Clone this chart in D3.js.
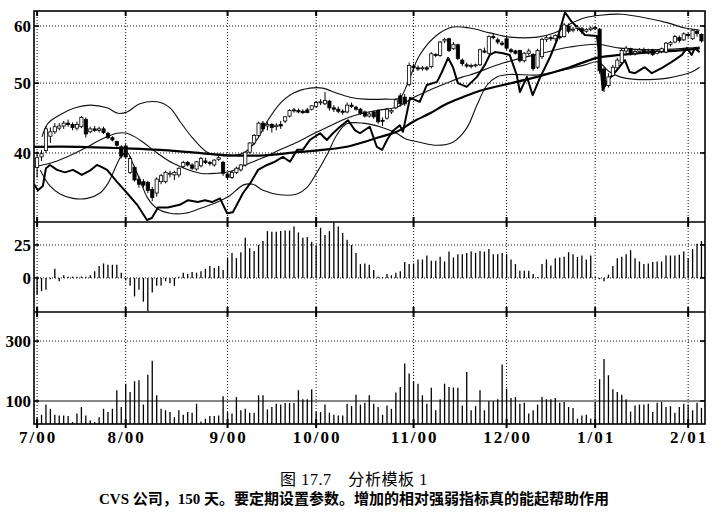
<!DOCTYPE html>
<html>
<head>
<meta charset="utf-8">
<script src="https://cdn.jsdelivr.net/npm/d3@7"></script>
<style>
  body { margin: 0; background: #fff; }
  svg { display: block; }
</style>
</head>
<body>
<svg id="chart" width="721" height="517"></svg>
<script>
// DATA -----------------------------------------------------------
// trading-day index of the first session of each month
const monthDays = [0, 20, 43, 63, 85, 106, 126, 147]
const monthLabels = ["7/00", "8/00", "9/00", "10/00", "11/00", "12/00", "1/01", "2/01"]
const priceTicks = [40, 50, 60]
const momentumTicks = [0, 25]
const volumeTicks = [100, 300]

// daily bars: [open, high, low, close]
const candles = [
  [38.2,40.2,37.0,39.4],[39.5,40.4,39.0,39.9],[40.3,43.6,40.0,43.2],[42.2,43.4,41.3,42.8],[42.8,44.0,42.5,43.5],
  [43.3,44.0,43.0,43.6],[43.6,44.3,43.2,44.0],[44.0,44.5,43.5,43.8],[43.8,44.1,43.0,43.4],[43.3,44.2,43.0,43.8],
  [43.5,45.0,43.3,44.8],[44.5,44.8,42.0,42.5],[42.8,43.5,42.6,43.2],[43.2,43.6,42.8,43.0],[43.0,43.5,42.7,43.2],
  [43.2,43.5,42.5,42.7],[42.6,42.8,41.8,42.0],[42.0,42.2,41.5,41.7],[41.5,41.6,40.8,41.0],[40.8,41.0,39.3,39.6],
  [40.9,41.2,39.3,39.5],[37.6,39.6,37.4,39.3],[38.2,38.4,36.5,36.7],[36.8,37.2,35.8,36.2],[36.5,36.8,35.8,36.1],
  [36.4,36.6,35.2,35.5],[35.6,35.9,34.3,34.7],[35.2,37.0,34.8,36.8],[36.5,37.4,36.2,37.2],[36.5,37.8,36.3,37.6],
  [37.4,37.8,37.0,37.5],[37.3,37.8,36.7,37.6],[37.3,38.2,37.0,38.1],[38.3,39.0,38.1,38.8],[38.8,39.0,38.3,38.5],
  [38.5,38.7,37.9,38.1],[38.0,39.0,37.8,38.9],[38.4,39.5,38.2,39.3],[39.0,39.4,38.6,38.8],[38.8,39.0,38.4,38.7],
  [38.5,39.2,38.3,39.1],[39.2,39.8,39.0,39.4],[38.8,39.0,37.2,37.5],[37.4,37.6,36.8,37.0],[37.0,37.8,36.8,37.6],
  [37.6,38.3,37.4,38.1],[37.9,38.6,37.7,38.5],[38.5,40.2,38.3,40.1],[40.1,41.4,39.9,41.3],[41.3,42.5,41.0,42.3],
  [42.3,44.2,42.0,44.0],[44.0,44.3,42.8,43.2],[43.6,44.2,43.0,43.8],[43.8,44.0,42.7,43.4],[43.5,44.0,43.0,43.7],
  [43.8,44.3,43.2,43.6],[44.3,45.0,44.0,44.9],[45.0,46.0,44.8,45.8],[45.9,46.2,45.5,45.8],[45.8,46.1,45.4,45.6],
  [45.7,46.0,45.3,45.5],[45.9,46.2,45.4,45.5],[46.0,46.6,45.8,46.5],[46.4,47.2,46.2,47.0],[47.0,47.5,46.6,47.1],
  [46.8,48.6,46.6,47.3],[47.2,47.4,45.8,46.2],[46.2,46.6,45.6,46.0],[46.0,46.4,45.4,45.7],[45.7,46.0,45.2,45.6],
  [45.6,47.0,45.4,46.6],[46.6,47.0,46.2,46.4],[46.3,46.5,45.8,46.0],[46.0,46.2,45.2,45.4],[45.6,45.8,44.8,45.0],
  [45.0,45.6,44.8,45.3],[45.6,45.8,44.6,44.9],[45.8,46.0,43.9,44.2],[44.4,44.8,43.6,44.3],[44.7,46.2,44.5,46.0],
  [45.6,46.0,45.3,45.8],[46.2,47.6,46.0,47.4],[48.0,48.4,46.4,46.8],[47.8,48.3,46.5,46.8],[49.8,53.4,49.5,52.9],
  [52.8,53.2,52.0,52.5],[52.5,52.9,52.0,52.3],[52.4,52.8,52.0,52.5],[52.5,52.8,52.0,52.3],[52.7,55.2,52.4,54.9],
  [54.8,55.0,54.3,54.6],[54.6,57.2,54.4,57.0],[57.2,57.8,56.8,57.5],[57.6,57.8,55.2,55.5],[55.8,57.0,55.6,56.6],
  [56.5,56.7,53.8,54.1],[53.8,54.1,52.8,53.2],[53.0,53.4,52.5,52.8],[52.8,53.2,52.4,52.9],[52.9,53.2,52.6,53.0],
  [53.0,55.8,52.8,55.6],[55.4,56.0,55.0,55.2],[55.0,58.2,54.8,58.0],[58.0,58.6,57.5,57.8],[57.4,57.8,56.6,57.0],
  [56.8,57.2,56.3,56.6],[57.6,58.0,55.6,55.9],[55.6,55.9,55.0,55.3],[55.4,55.6,54.8,55.0],[55.5,55.6,53.4,53.7],
  [53.7,55.2,53.4,55.0],[55.0,55.8,54.6,55.4],[54.8,55.0,52.0,52.4],[52.6,55.8,52.3,55.5],[54.4,57.8,54.0,57.5],
  [57.5,58.2,57.0,57.8],[57.8,58.2,57.2,57.6],[57.6,58.4,57.2,58.2],[58.0,58.4,57.5,57.8],[58.0,60.6,57.8,60.2],
  [60.0,60.5,58.6,59.0],[59.2,59.8,58.8,59.4],[59.5,60.2,59.0,59.8],[59.5,59.8,58.5,59.0],[59.0,59.6,58.7,59.3],
  [59.3,59.9,59.0,59.6],[59.5,60.0,59.2,59.7],[59.4,59.6,51.5,52.0],[52.3,52.6,48.6,49.5],[49.6,51.6,49.3,51.0],
  [51.2,53.0,51.0,52.6],[52.5,54.2,52.2,53.8],[53.4,55.8,53.2,55.5],[55.4,56.3,55.0,55.9],[55.8,56.0,54.6,55.0],
  [55.0,55.6,54.6,55.3],[55.3,55.9,54.9,55.6],[55.5,56.0,55.0,55.2],[55.3,55.8,54.8,55.4],[55.6,55.8,54.5,54.8],
  [55.0,55.6,54.8,55.3],[55.3,56.0,55.0,55.8],[55.2,57.0,55.0,56.8],[56.6,57.2,56.2,56.9],[57.0,58.3,56.8,58.0],
  [57.8,58.2,56.9,57.3],[57.4,58.8,57.2,58.5],[58.4,58.7,57.8,58.2],[57.6,59.4,57.4,59.2],[59.0,59.3,58.0,58.6],
  [58.4,58.6,56.9,57.2]
]

// overlays: [day, price]
const upperBand = [[1.1,42.1],[2.5,44.0],[5.2,45.2],[8.6,46.2],[11.9,46.6],[15.8,46.2],[18.3,45.4],[20.3,45.6],
  [23.2,46.8],[27.1,47.1],[30.0,46.2],[32.3,44.2],[35.2,41.9],[38.4,40.1],[41.3,39.7],[44.7,39.7],[46.9,40.1],
  [49.6,41.7],[51.9,44.2],[54.8,46.8],[57.8,48.4],[61.6,49.2],[64.5,49.2],[67.7,48.4],[70.6,47.8],[74.0,47.5],
  [78.5,47.5],[81.9,47.7],[83.5,49.7],[86.4,54.7],[90.3,58.3],[93.9,59.8],[97.7,59.6],[102.2,58.7],[106.7,57.9],
  [112.9,57.9],[116.9,58.7],[120.3,60.4],[123.7,61.6],[127.1,62.1],[132.0,62.3],[137.2,61.6],[142.4,60.6],
  [146.3,59.6],[149.6,59.2]]

const middleAvg = [[-0.5,38.3],[2.9,38.7],[6.7,39.5],[10.8,40.6],[14.2,41.7],[18.0,42.6],[20.3,42.6],[23.2,41.7],
  [27.1,40.0],[30.7,38.7],[36.8,37.5],[40.6,37.5],[43.5,37.7],[47.4,38.6],[51.0,39.4],[54.8,40.4],[58.7,41.4],
  [62.3,42.5],[66.1,43.6],[69.9,44.7],[73.6,45.4],[77.4,45.9],[81.2,46.3],[84.9,47.7],[88.7,48.9],[92.5,50.0],
  [96.1,51.0],[97.7,51.3],[105.2,53.3],[112.9,54.8],[120.3,56.1],[126.4,56.6],[131.6,55.9],[139.0,55.6],
  [146.7,55.9],[149.6,56.1]]

const lowerBand = [[0.7,37.9],[2.9,36.0],[5.2,35.1],[8.1,34.6],[11.3,34.6],[14.2,35.2],[16.0,36.3],[17.6,38.1],
  [19.0,39.6],[20.3,40.1],[21.6,38.7],[23.2,36.7],[25.0,34.6],[27.1,33.5],[30.0,33.0],[33.4,33.0],[36.8,33.5],
  [40.2,34.1],[43.5,34.9],[46.5,36.1],[48.7,36.2],[51.0,35.5],[54.8,35.0],[58.7,35.1],[60.9,35.8],[63.2,37.6],
  [65.4,39.7],[67.7,42.4],[69.9,43.9],[73.6,44.0],[77.4,43.5],[81.2,42.6],[83.0,41.9],[86.4,41.4],[90.3,41.0],
  [93.9,41.4],[97.0,43.3],[99.3,46.6],[101.6,49.7],[103.8,51.0],[106.7,51.4],[112.9,51.3],[116.9,51.8],
  [123.7,53.0],[126.6,53.5],[129.3,51.8],[131.6,51.0],[135.0,50.6],[139.5,50.6],[142.4,50.8],[145.6,51.3],
  [147.8,51.8],[149.6,52.6]]

const longAvg = [[-0.7,40.8],[9.7,40.8],[19.8,40.6],[27.7,40.4],[34.5,40.1],[43.5,39.7],[51.4,39.7],[58.7,40.1],
  [64.5,40.4],[69.9,40.8],[73.6,41.4],[77.4,42.1],[81.2,42.8],[84.9,44.2],[88.7,45.4],[92.5,46.8],[96.1,47.8],
  [100.0,48.8],[105.2,49.7],[112.9,51.0],[120.3,52.6],[126.4,54.2],[131.6,54.7],[139.0,55.2],[146.7,55.6],
  [149.6,55.9]]

const relStrength = [[-0.7,36.2],[0.2,35.5],[1.3,36.0],[2.0,38.1],[2.9,38.5],[4.5,37.9],[6.3,37.6],[8.1,37.9],
  [10.1,37.3],[11.9,37.8],[13.5,38.5],[14.4,38.3],[15.8,37.9],[18.0,36.5],[20.3,35.2],[22.6,33.9],[24.8,32.3],
  [25.9,32.5],[27.3,33.6],[29.5,33.6],[32.2,33.9],[34.1,34.4],[36.3,34.2],[37.9,34.4],[39.5,34.2],[41.3,34.6],
  [42.9,33.0],[44.2,33.1],[46.5,35.2],[48.1,36.3],[49.9,37.9],[51.9,38.5],[53.7,38.9],[55.5,39.5],[57.1,38.9],
  [58.7,40.4],[60.0,40.4],[61.6,41.7],[63.9,42.6],[65.4,41.7],[66.8,42.6],[68.4,43.5],[70.2,44.4],[71.8,43.0],
  [72.9,42.6],[75.1,43.5],[76.7,40.8],[77.9,40.4],[79.0,41.7],[80.3,42.9],[81.9,43.7],[82.6,42.8],[84.2,47.7],
  [86.4,47.1],[88.0,49.7],[90.3,50.2],[91.4,51.8],[92.8,54.2],[93.9,52.6],[95.0,50.0],[97.0,49.4],[99.3,51.0],
  [101.1,53.0],[102.2,54.7],[103.4,55.2],[105.2,55.0],[106.7,54.7],[108.3,51.3],[109.0,48.6],[110.6,51.0],
  [111.9,48.1],[113.5,50.8],[115.8,54.3],[117.4,57.4],[119.2,62.7],[120.7,60.8],[123.7,58.3],[126.4,58.1],
  [127.1,53.8],[127.7,48.9],[128.9,50.5],[130.9,52.1],[132.7,53.8],[133.8,51.8],[135.0,51.6],[137.2,52.6],
  [138.8,51.6],[141.1,52.5],[143.3,53.5],[145.6,54.7],[146.7,55.9],[147.8,54.7],[148.5,55.9],[149.6,55.2]]

// momentum histogram, one value per day
const momentum = [
  -12.5,-10,-9,-1,7,-2.5,2,1,1,1,
  1,1,2,5,9,11,10,10,10,4,
  -2,-6,-14,-9,-18,-25,-11,-6,-6,-2.5,
  -4,-6,1,4,3,4.5,4,5,7,9,
  7.5,9,6,15.5,19,15,19.5,30.5,22.5,20.5,
  25,28,35.5,35,35,35.5,36,36,39,34.5,
  30.5,31,27.5,24.5,38,32.5,35.5,42,39,34,
  29,25,19,10.5,11,10,6,1,0.5,3,
  2,4,5,12,10.5,11,14,14,17,13,
  13,16,12.5,20,15.5,18,18,19,20,19,
  20.5,20,22,18,18,19,18,14,10.5,5.5,
  5.5,5.5,3,0.5,10.5,14,9.5,15,15.5,16,
  19.5,18,16,17,14,17,0.5,-1,-2.5,2.5,
  9,15,16,18,21,15,12.5,10.5,11,12,
  12.5,12.5,17,17,17,17.5,20,15,22,26,
  28
]

// daily volume
const volume = [
  46,54,88,74,54,52,52,50,30,58,
  80,52,35,30,46,74,63,74,136,80,
  158,130,166,169,88,188,234,119,74,69,
  63,46,69,54,63,61,91,32,41,50,
  50,52,116,63,58,113,69,74,61,61,
  119,119,72,80,91,88,93,93,93,136,
  106,106,139,65,63,88,61,54,52,52,
  91,83,121,88,94,119,91,80,54,85,
  74,128,147,225,192,166,158,119,91,144,
  69,106,158,147,145,144,85,197,69,83,
  136,69,99,99,106,222,141,110,113,91,
  94,58,69,88,113,106,106,110,94,97,
  80,77,41,52,54,41,97,173,240,186,
  139,130,121,106,65,85,88,88,91,63,
  94,97,80,83,61,80,91,88,69,94,
  77
]

// LAYOUT -----------------------------------------------------------
const left = 34
const right = 705
const pricePanel = [11, 222]
const momPanel = [222, 312]
const volPanel = [312, 424]
const serif = '"Liberation Serif", "Times New Roman", serif'

const svg = d3.select("#chart")

const xScale = d3.scaleLinear()
  .domain([-0.7, 150.8])
  .range([left, right])

const yPrice = d3.scaleLog()
  .domain([32.09, 62.94])
  .range([pricePanel[1], pricePanel[0]])

const yMom = d3.scaleLinear()
  .domain([-25.8, 42.4])
  .range([momPanel[1], momPanel[0]])

const yVol = d3.scaleLinear()
  .domain([23.3, 397])
  .range([volPanel[1], volPanel[0]])

svg.append("defs").append("clipPath")
  .attr("id", "price-clip")
  .append("rect")
  .attr("x", left).attr("y", pricePanel[0])
  .attr("width", right - left).attr("height", pricePanel[1] - pricePanel[0])

// GRID -----------------------------------------------------------
const grid = svg.append("g")
  .attr("stroke", "#111")
  .attr("stroke-width", 1)
  .attr("stroke-dasharray", "1,2")

const panels = [pricePanel, momPanel, volPanel]
panels.forEach(p => {
  grid.selectAll(null)
    .data(monthDays)
    .join("line")
    .attr("x1", d => xScale(d)).attr("x2", d => xScale(d))
    .attr("y1", p[0]).attr("y2", p[1])
})

const hLines = [
  ...priceTicks.map(d => yPrice(d)),
  ...momentumTicks.map(d => yMom(d)),
  yVol(volumeTicks[1])
]
grid.selectAll(null)
  .data(hLines)
  .join("line")
  .attr("x1", left).attr("x2", right)
  .attr("y1", d => d).attr("y2", d => d)

// solid reference line in volume panel
svg.append("line")
  .attr("x1", left).attr("x2", right)
  .attr("y1", yVol(volumeTicks[0])).attr("y2", yVol(volumeTicks[0]))
  .attr("stroke", "#111").attr("stroke-width", 1)

// PRICE PANEL -----------------------------------------------------------
const priceG = svg.append("g").attr("clip-path", "url(#price-clip)")

const smooth = d3.line()
  .x(d => xScale(d[0]))
  .y(d => yPrice(d[1]))
  .curve(d3.curveCatmullRom.alpha(0.5))

const jagged = d3.line()
  .x(d => xScale(d[0]))
  .y(d => yPrice(d[1]))

;[upperBand, middleAvg, lowerBand].forEach(series => {
  priceG.append("path")
    .datum(series)
    .attr("d", smooth)
    .attr("fill", "none")
    .attr("stroke", "#111")
    .attr("stroke-width", 1.1)
})

priceG.append("path")
  .datum(longAvg)
  .attr("d", smooth)
  .attr("fill", "none")
  .attr("stroke", "#000")
  .attr("stroke-width", 2.2)

priceG.append("path")
  .datum(relStrength)
  .attr("d", jagged)
  .attr("fill", "none")
  .attr("stroke", "#000")
  .attr("stroke-width", 2)
  .attr("stroke-linejoin", "round")

const bars = priceG.selectAll(".candle")
  .data(candles)
  .join("g")
  .attr("class", "candle")

bars.append("line")
  .attr("x1", (d, i) => xScale(i)).attr("x2", (d, i) => xScale(i))
  .attr("y1", d => yPrice(d[1])).attr("y2", d => yPrice(d[2]))
  .attr("stroke", "#000").attr("stroke-width", 1)

bars.append("rect")
  .attr("x", (d, i) => xScale(i) - 1.6)
  .attr("width", 3.2)
  .attr("y", d => yPrice(Math.max(d[0], d[3])))
  .attr("height", d => Math.max(1, Math.abs(yPrice(d[0]) - yPrice(d[3]))))
  .attr("fill", d => d[3] >= d[0] ? "#fff" : "#000")
  .attr("stroke", "#000")
  .attr("stroke-width", 0.8)

// MOMENTUM PANEL -----------------------------------------------------------
svg.append("g").selectAll("line")
  .data(momentum)
  .join("line")
  .attr("x1", (d, i) => xScale(i)).attr("x2", (d, i) => xScale(i))
  .attr("y1", yMom(0))
  .attr("y2", d => Math.abs(d) < 0.6 ? yMom(0) - (d < 0 ? -1 : 1) : yMom(d))
  .attr("stroke", "#000")
  .attr("stroke-width", 1.3)

// VOLUME PANEL -----------------------------------------------------------
svg.append("g").selectAll("line")
  .data(volume)
  .join("line")
  .attr("x1", (d, i) => xScale(i)).attr("x2", (d, i) => xScale(i))
  .attr("y1", volPanel[1])
  .attr("y2", d => yVol(d))
  .attr("stroke", "#000")
  .attr("stroke-width", 1.3)

// FRAMES & TICKS -----------------------------------------------------------
const frame = svg.append("g").attr("fill", "none").attr("stroke", "#000")

frame.append("rect")
  .attr("x", left).attr("y", pricePanel[0])
  .attr("width", right - left).attr("height", volPanel[1] - pricePanel[0])
  .attr("stroke-width", 1.6)

;[momPanel[0], volPanel[0]].forEach(y => {
  frame.append("line")
    .attr("x1", left).attr("x2", right)
    .attr("y1", y).attr("y2", y)
    .attr("stroke-width", 1.6)
})

const edgeYs = [pricePanel[0], momPanel[0], volPanel[0], volPanel[1]]
edgeYs.forEach(y => {
  frame.selectAll(null)
    .data(monthDays)
    .join("line")
    .attr("x1", d => xScale(d)).attr("x2", d => xScale(d))
    .attr("y1", y === pricePanel[0] ? y : y - 5)
    .attr("y2", y === volPanel[1] ? y + 4 : y + 5)
    .attr("stroke-width", 2)
})

const sideTicks = [
  ...priceTicks.map(d => yPrice(d)),
  ...momentumTicks.map(d => yMom(d)),
  ...volumeTicks.map(d => yVol(d))
]
sideTicks.forEach(y => {
  frame.append("line").attr("x1", left).attr("x2", left + 5).attr("y1", y).attr("y2", y).attr("stroke-width", 1.6)
  frame.append("line").attr("x1", right - 5).attr("x2", right).attr("y1", y).attr("y2", y).attr("stroke-width", 1.6)
})

// LABELS -----------------------------------------------------------
const labels = svg.append("g")
  .attr("font-family", serif)
  .attr("font-weight", "bold")
  .attr("font-size", 17)
  .attr("fill", "#000")

const yLabels = [
  ...priceTicks.map(d => ({ text: d, y: yPrice(d) })),
  ...momentumTicks.map(d => ({ text: d, y: yMom(d) })),
  ...volumeTicks.map(d => ({ text: d, y: yVol(d) }))
]
labels.selectAll(".ylab")
  .data(yLabels)
  .join("text")
  .attr("class", "ylab")
  .attr("x", 31)
  .attr("y", d => d.y + 6)
  .attr("text-anchor", "end")
  .text(d => d.text)

labels.selectAll(".xlab")
  .data(monthDays)
  .join("text")
  .attr("class", "xlab")
  .attr("x", d => xScale(d) + 1)
  .attr("y", 443)
  .attr("text-anchor", "middle")
  .attr("letter-spacing", 2)
  .text((d, i) => monthLabels[i])

svg.append("text")
  .attr("x", 354)
  .attr("y", 485)
  .attr("text-anchor", "middle")
  .attr("font-family", '"Liberation Serif", "Noto Sans CJK SC", serif')
  .attr("font-size", 16)
  .attr("letter-spacing", 0.6)
  .text("图 17.7　分析模板 1")

svg.append("text")
  .attr("x", 354)
  .attr("y", 504)
  .attr("text-anchor", "middle")
  .attr("font-family", '"Liberation Serif", "Noto Sans CJK SC", serif')
  .attr("font-weight", "bold")
  .attr("font-size", 15)
  .text("CVS 公司，150 天。要定期设置参数。增加的相对强弱指标真的能起帮助作用")
</script>
</body>
</html>
